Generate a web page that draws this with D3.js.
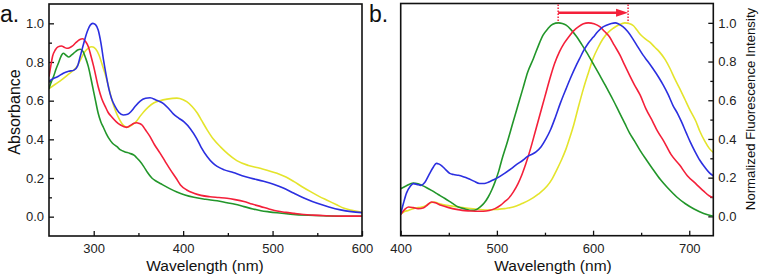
<!DOCTYPE html>
<html><head><meta charset="utf-8">
<script src="https://cdn.jsdelivr.net/npm/d3@7"></script>
<style>
body{margin:0;background:#fff;}
svg{display:block;font-family:"Liberation Sans",Arial,sans-serif;}
</style></head>
<body><svg id="c" width="760" height="280"></svg>
<script>
// ---------- Panel a: absorbance ----------
const absBlue = [[250,0.70],[255,0.715],[260,0.725],[266,0.742],[272,0.752],[278,0.758],[282,0.78],[285,0.83],[289,0.9],[293,0.96],[296,0.99],[299,1.0],[302,0.993],[305,0.965],[308,0.9],[311,0.81],[314,0.73],[317,0.66],[320,0.61],[324,0.569],[328,0.54],[333,0.526],[338,0.53],[342,0.545],[346,0.568],[352,0.598],[358,0.612],[363,0.615],[370,0.602],[378,0.585],[384,0.558],[389,0.532],[395,0.51],[401,0.49],[408,0.455],[415,0.405],[420,0.36],[427,0.31],[433,0.278],[438,0.26],[446,0.242],[456,0.228],[466,0.212],[475,0.2],[490,0.183],[501,0.168],[512,0.148],[524,0.121],[537,0.093],[550,0.069],[563,0.05],[576,0.035],[588,0.026],[600,0.021]];
const absYellow = [[250,0.662],[257,0.685],[264,0.707],[270,0.73],[276,0.752],[281,0.775],[285,0.81],[290,0.853],[294,0.872],[298,0.879],[302,0.868],[306,0.835],[309,0.793],[313,0.735],[317,0.665],[320,0.61],[324,0.552],[328,0.51],[333,0.474],[338,0.463],[343,0.475],[348,0.495],[352,0.52],[356,0.543],[361,0.567],[367,0.588],[374,0.6],[382,0.608],[393,0.613],[400,0.605],[404,0.595],[410,0.57],[416,0.535],[421,0.495],[427,0.448],[434,0.4],[442,0.36],[450,0.325],[460,0.29],[473,0.265],[486,0.25],[505,0.224],[515,0.205],[524,0.181],[533,0.155],[543,0.128],[552,0.105],[561,0.085],[571,0.063],[580,0.043],[590,0.032],[600,0.022]];
const absRed = [[250,0.725],[252,0.78],[254,0.83],[257,0.862],[260,0.878],[264,0.883],[267,0.876],[270,0.871],[273,0.874],[276,0.882],[280,0.9],[284,0.915],[288,0.92],[291,0.905],[294,0.879],[297,0.83],[300,0.776],[305,0.672],[309,0.61],[313,0.569],[316,0.54],[320,0.517],[325,0.492],[330,0.474],[337,0.462],[341,0.472],[345,0.483],[348,0.486],[351,0.482],[354,0.474],[358,0.448],[363,0.414],[368,0.372],[374,0.33],[380,0.285],[386,0.241],[392,0.2],[397,0.164],[404,0.138],[412,0.121],[420,0.11],[430,0.103],[440,0.099],[449,0.095],[458,0.088],[468,0.078],[477,0.065],[487,0.052],[496,0.04],[505,0.029],[515,0.022],[524,0.017],[535,0.011],[545,0.008],[560,0.005],[580,0.003],[600,0.003]];
const absGreen = [[250,0.662],[252,0.69],[255,0.724],[258,0.765],[261,0.8],[264,0.835],[266,0.845],[269,0.835],[272,0.826],[275,0.835],[278,0.847],[282,0.862],[285,0.866],[288,0.855],[291,0.82],[294,0.776],[298,0.69],[302,0.6],[305,0.535],[308,0.49],[311,0.46],[314,0.43],[317,0.405],[321,0.38],[326,0.362],[330,0.345],[335,0.335],[340,0.328],[345,0.318],[348,0.305],[351,0.29],[356,0.259],[360,0.23],[365,0.2],[370,0.183],[375,0.17],[385,0.145],[393,0.128],[402,0.112],[412,0.1],[425,0.09],[438,0.082],[449,0.072],[458,0.064],[468,0.052],[478,0.04],[487,0.031],[496,0.025],[505,0.02],[520,0.013],[540,0.007],[560,0.004],[580,0.002],[600,0.002]];

// ---------- Panel b: normalized fluorescence ----------
const flGreen = [[400,0.143],[406,0.158],[413,0.172],[418,0.168],[422,0.16],[427,0.148],[432,0.134],[439,0.113],[446,0.092],[453,0.07],[460,0.048],[467,0.038],[474,0.031],[479,0.036],[483,0.05],[487,0.07],[491,0.1],[495,0.14],[498,0.177],[502,0.235],[505,0.29],[510,0.37],[517,0.49],[522,0.575],[527,0.66],[532,0.745],[538,0.816],[543,0.88],[548,0.936],[553,0.97],[558,0.993],[564,1.0],[568,0.997],[572,0.988],[577,0.965],[583,0.928],[588,0.89],[593,0.85],[600,0.79],[607,0.729],[614,0.665],[621,0.6],[627,0.54],[633,0.48],[638,0.43],[643,0.39],[649,0.34],[655,0.295],[662,0.245],[670,0.19],[678,0.145],[687,0.1],[696,0.065],[705,0.038],[715,0.015],[725,0.0]];
const flRed = [[400,0.01],[404,0.035],[408,0.048],[413,0.045],[418,0.04],[424,0.045],[428,0.06],[432,0.074],[436,0.07],[442,0.057],[450,0.045],[458,0.036],[464,0.031],[472,0.028],[480,0.026],[486,0.026],[492,0.03],[498,0.04],[504,0.058],[509,0.08],[512,0.092],[517,0.125],[522,0.169],[526,0.215],[530,0.27],[535,0.35],[540,0.44],[545,0.53],[550,0.62],[555,0.71],[560,0.79],[565,0.85],[570,0.895],[575,0.93],[580,0.96],[585,0.98],[590,0.995],[595,1.0],[601,0.995],[607,0.98],[612,0.955],[617,0.928],[622,0.885],[628,0.833],[633,0.78],[638,0.729],[643,0.68],[649,0.626],[655,0.555],[662,0.49],[667,0.44],[673,0.393],[681,0.32],[690,0.265],[698,0.21],[707,0.168],[715,0.13],[721,0.105],[725,0.097]];
const flBlue = [[400,0.012],[403,0.07],[406,0.12],[410,0.155],[413,0.169],[417,0.165],[421,0.16],[425,0.175],[430,0.221],[434,0.255],[437,0.274],[440,0.27],[443,0.26],[447,0.24],[451,0.222],[455,0.216],[460,0.212],[465,0.205],[470,0.196],[476,0.182],[482,0.17],[487,0.17],[491,0.176],[496,0.188],[501,0.2],[508,0.222],[515,0.247],[521,0.27],[527,0.29],[532,0.31],[537,0.322],[541,0.335],[546,0.36],[551,0.4],[556,0.45],[561,0.515],[566,0.585],[572,0.66],[577,0.72],[582,0.775],[586,0.815],[590,0.855],[595,0.895],[600,0.925],[605,0.955],[610,0.978],[614,0.988],[619,0.997],[623,1.0],[627,0.993],[631,0.98],[636,0.955],[641,0.92],[646,0.88],[652,0.833],[657,0.8],[662,0.765],[668,0.72],[673,0.678],[678,0.63],[683,0.574],[688,0.53],[692,0.488],[697,0.43],[701,0.385],[706,0.335],[711,0.29],[716,0.255],[721,0.225],[725,0.21]];
const flYellow = [[400,0.012],[404,0.025],[408,0.03],[413,0.04],[418,0.045],[422,0.048],[427,0.058],[432,0.072],[435,0.074],[440,0.066],[446,0.058],[452,0.054],[460,0.048],[470,0.042],[480,0.037],[491,0.033],[500,0.036],[508,0.04],[517,0.048],[526,0.066],[534,0.085],[543,0.115],[552,0.155],[557,0.19],[562,0.238],[567,0.29],[572,0.35],[576,0.41],[580,0.475],[585,0.57],[590,0.66],[595,0.74],[600,0.816],[605,0.87],[610,0.915],[616,0.952],[621,0.972],[627,0.99],[633,1.0],[637,0.997],[642,0.985],[646,0.96],[650,0.936],[654,0.918],[659,0.9],[664,0.875],[669,0.85],[675,0.81],[680,0.764],[685,0.71],[690,0.661],[695,0.61],[700,0.557],[707,0.49],[711,0.44],[716,0.39],[721,0.35],[725,0.33]];

// shift arrow between the green and yellow emission maxima
const shiftFrom = 563.7, shiftTo = 636.4;

// tick labels
const absXTicks = [300,400,500,600];
const flXTicks = [400,500,600,700];
const yTicks = [0.0,0.2,0.4,0.6,0.8,1.0];

const COL = {blue:"#2b2fe0", red:"#f4203a", yellow:"#e4e42c", green:"#22962a"};

const svg = d3.select("#c");

function panel(opts){
  const {x0,x1,y0,y1,xDomain,xTicks,xMinor,side,series,id} = opts;
  const x = d3.scaleLinear().domain(xDomain).range([x0,x1]);
  const y = d3.scaleLinear().domain([-0.1,1.1]).range([y1,y0]);
  const g = svg.append("g");
  g.append("clipPath").attr("id",id).append("rect")
    .attr("x",x0).attr("y",y0).attr("width",x1-x0).attr("height",y1-y0);

  g.append("g").attr("transform",`translate(0,${y1})`)
    .call(d3.axisBottom(x).tickValues(xTicks).tickSize(-5).tickPadding(8).tickFormat(d3.format("d")));
  g.append("g").attr("transform",`translate(0,${y1})`)
    .call(d3.axisBottom(x).tickValues(xMinor).tickSize(-3).tickFormat(""));
  const yMinor = [0.1,0.3,0.5,0.7,0.9];
  if(side==="left"){
    g.append("g").attr("transform",`translate(${x0},0)`)
      .call(d3.axisLeft(y).tickValues(yTicks).tickSize(-5).tickPadding(5).tickFormat(d3.format(".1f")));
    g.append("g").attr("transform",`translate(${x0},0)`)
      .call(d3.axisLeft(y).tickValues(yMinor).tickSize(-3).tickFormat(""));
  } else {
    g.append("g").attr("transform",`translate(${x1},0)`)
      .call(d3.axisRight(y).tickValues(yTicks).tickSize(-5).tickPadding(5).tickFormat(d3.format(".1f")));
    g.append("g").attr("transform",`translate(${x1},0)`)
      .call(d3.axisRight(y).tickValues(yMinor).tickSize(-3).tickFormat(""));
  }
  g.selectAll(".domain").remove();
  g.selectAll(".tick line").attr("stroke","#111").attr("stroke-width",1.3);
  g.selectAll(".tick text").attr("font-size",13).attr("fill","#222")
    .attr("font-family","'Liberation Sans',Arial,sans-serif");

  const line = d3.line().x(d=>x(d[0])).y(d=>y(d[1])).curve(d3.curveMonotoneX);
  const lg = g.append("g").attr("clip-path",`url(#${id})`);
  series.forEach(s=>{
    lg.append("path").datum(s.data).attr("d",line)
      .attr("fill","none").attr("stroke",s.color).attr("stroke-width",1.6)
      .attr("stroke-linejoin","round");
  });

  g.append("rect").attr("x",x0).attr("y",y0).attr("width",x1-x0).attr("height",y1-y0)
    .attr("fill","none").attr("stroke","#111").attr("stroke-width",1.6);
  return {x,y,g};
}

const pa = panel({id:"ca",x0:49,x1:362,y0:4,y1:236,xDomain:[250,600],xTicks:absXTicks,xMinor:[350,450,550],side:"left",
  series:[{data:absYellow,color:COL.yellow},{data:absGreen,color:COL.green},{data:absRed,color:COL.red},{data:absBlue,color:COL.blue}]});

const pb = panel({id:"cb",x0:400.7,x1:713.3,y0:3.5,y1:235.7,xDomain:[400,725],xTicks:flXTicks,xMinor:[450,550,650],side:"right",
  series:[{data:flYellow,color:COL.yellow},{data:flGreen,color:COL.green},{data:flRed,color:COL.red},{data:flBlue,color:COL.blue}]});

// shift annotation
[shiftFrom,shiftTo].forEach(v=>{
  pb.g.append("line").attr("x1",pb.x(v)).attr("x2",pb.x(v)).attr("y1",pb.y(1.1)+1).attr("y2",pb.y(1.0))
    .attr("stroke",COL.red).attr("stroke-width",1.5).attr("stroke-dasharray","1.5,1.5");
});
const ay = pb.y(1.05)-0.5;
pb.g.append("line").attr("x1",pb.x(shiftFrom)).attr("x2",pb.x(shiftTo)-10).attr("y1",ay).attr("y2",ay)
  .attr("stroke",COL.red).attr("stroke-width",2.4);
pb.g.append("path")
  .attr("d",`M${pb.x(shiftTo)},${ay} L${pb.x(shiftTo)-12},${ay-4} L${pb.x(shiftTo)-12},${ay+4} Z`)
  .attr("fill",COL.red);

// titles
const font = "'Liberation Sans',Arial,sans-serif";
svg.append("text").attr("x",205).attr("y",271).attr("text-anchor","middle").attr("font-size",15.5)
  .attr("font-family",font).attr("fill","#111").text("Wavelength (nm)");
svg.append("text").attr("x",553).attr("y",271).attr("text-anchor","middle").attr("font-size",15.5)
  .attr("font-family",font).attr("fill","#111").text("Wavelength (nm)");
svg.append("text").attr("transform","translate(20,112) rotate(-90)").attr("text-anchor","middle")
  .attr("font-size",16).attr("font-family",font).attr("fill","#111").text("Absorbance");
svg.append("text").attr("transform","translate(755,109) rotate(-90)").attr("text-anchor","middle")
  .attr("font-size",13.2).attr("font-family",font).attr("fill","#111").text("Normalized Fluorescence Intensity");
svg.append("text").attr("x",0).attr("y",22).attr("font-size",23).attr("font-family",font).attr("fill","#111").text("a.");
svg.append("text").attr("x",369).attr("y",22).attr("font-size",23).attr("font-family",font).attr("fill","#111").text("b.");
</script>
</body></html>
